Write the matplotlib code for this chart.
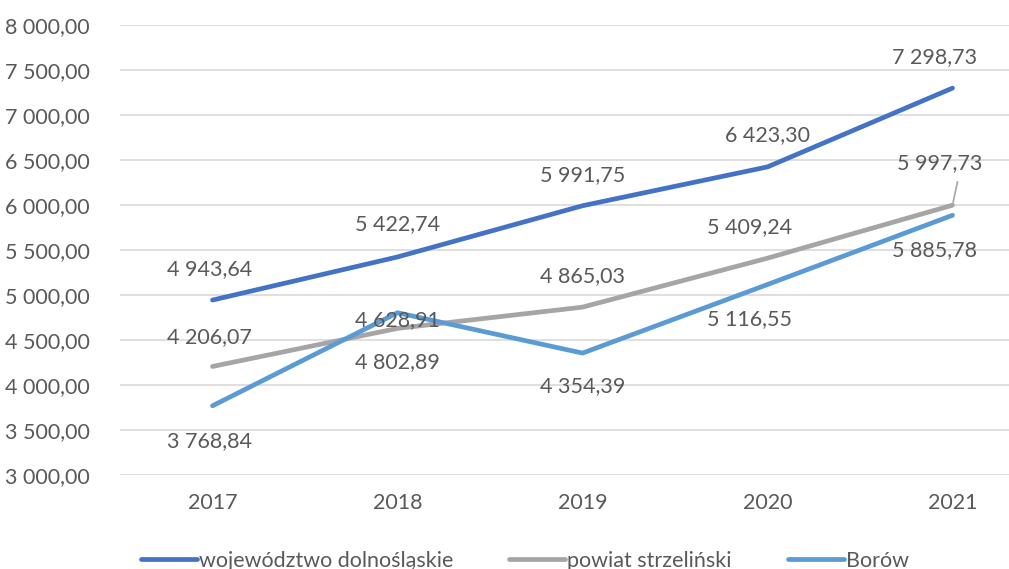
import matplotlib
matplotlib.use('Agg')
import matplotlib.pyplot as plt
from matplotlib.ticker import FuncFormatter

plt.rcParams['font.family'] = ['Lato', 'DejaVu Sans']

# ── data ─────────────────────────────────────────────
years = [2017, 2018, 2019, 2020, 2021]
wojewodztwo = [4943.64, 5422.74, 5991.75, 6423.30, 7298.73]
powiat = [4206.07, 4628.91, 4865.03, 5409.24, 5997.73]
borow = [3768.84, 4802.89, 4354.39, 5116.55, 5885.78]
series_names = ['województwo dolnośląskie', 'powiat strzeliński', 'Borów']

# label offsets in pixels (dx, dy) for each series
off_woj = [(-3, 31), (0, 33), (0, 31), (0, 32), (-18, 31)]
off_pow = [(-3, 29), (0, 8), (0, 31), (-18, 31), (-13, 42)]
off_bor = [(-3, -35), (0, -49), (0, -33), (-18, -35), (-18, -35)]

colors = ['#4472C4', '#A5A5A5', '#5B9BD5']
text_c = '#595959'
fs = 15.5


def fmt(v):
    s = f'{v:,.2f}'
    return s.replace(',', ' ').replace('.', ',')


fig = plt.figure(figsize=(10.09, 5.69), dpi=100)
ax = fig.add_axes([120 / 1009, 94 / 569, 925 / 1009, 450 / 569])

x = list(range(len(years)))
for vals, c, name in zip([wojewodztwo, powiat, borow], colors, series_names):
    ax.plot(x, vals, color=c, lw=3.4, solid_capstyle='round', label=name, zorder=3)

for vals, offs in zip([wojewodztwo, powiat, borow], [off_woj, off_pow, off_bor]):
    for xi, v, (dx, dy) in zip(x, vals, offs):
        ax.annotate(fmt(v), (xi, v), xytext=(dx, dy), textcoords='offset pixels',
                    ha='center', va='center', fontsize=fs, color=text_c, zorder=4)

# leader line for the last powiat label
ax.annotate('', (x[-1], powiat[-1]), xytext=(x[-1] + 0.03, powiat[-1] + 290),
            arrowprops=dict(arrowstyle='-', color='#A5A5A5', lw=1.2))

ax.set_xlim(-0.5, len(years) - 0.5)
ax.set_ylim(3000, 8000)
ax.set_yticks(range(3000, 8001, 500))
ax.yaxis.set_major_formatter(FuncFormatter(lambda v, p: fmt(v)))
ax.set_xticks(x)
ax.set_xticklabels([str(y) for y in years])
ax.tick_params(length=0, labelsize=fs, colors=text_c)
ax.tick_params(axis='x', pad=13)
ax.tick_params(axis='y', pad=22)
ax.grid(axis='y', color='#D9D9D9', lw=1.2)
ax.set_axisbelow(True)
for s in ax.spines.values():
    s.set_visible(False)

leg = fig.legend(loc='center', bbox_to_anchor=(0.52, 0.014), ncol=3, frameon=False,
                 fontsize=fs, handlelength=2.6, handletextpad=0.1, columnspacing=2.6)
for t in leg.get_texts():
    t.set_color(text_c)

fig.savefig('out.png', dpi=100)
